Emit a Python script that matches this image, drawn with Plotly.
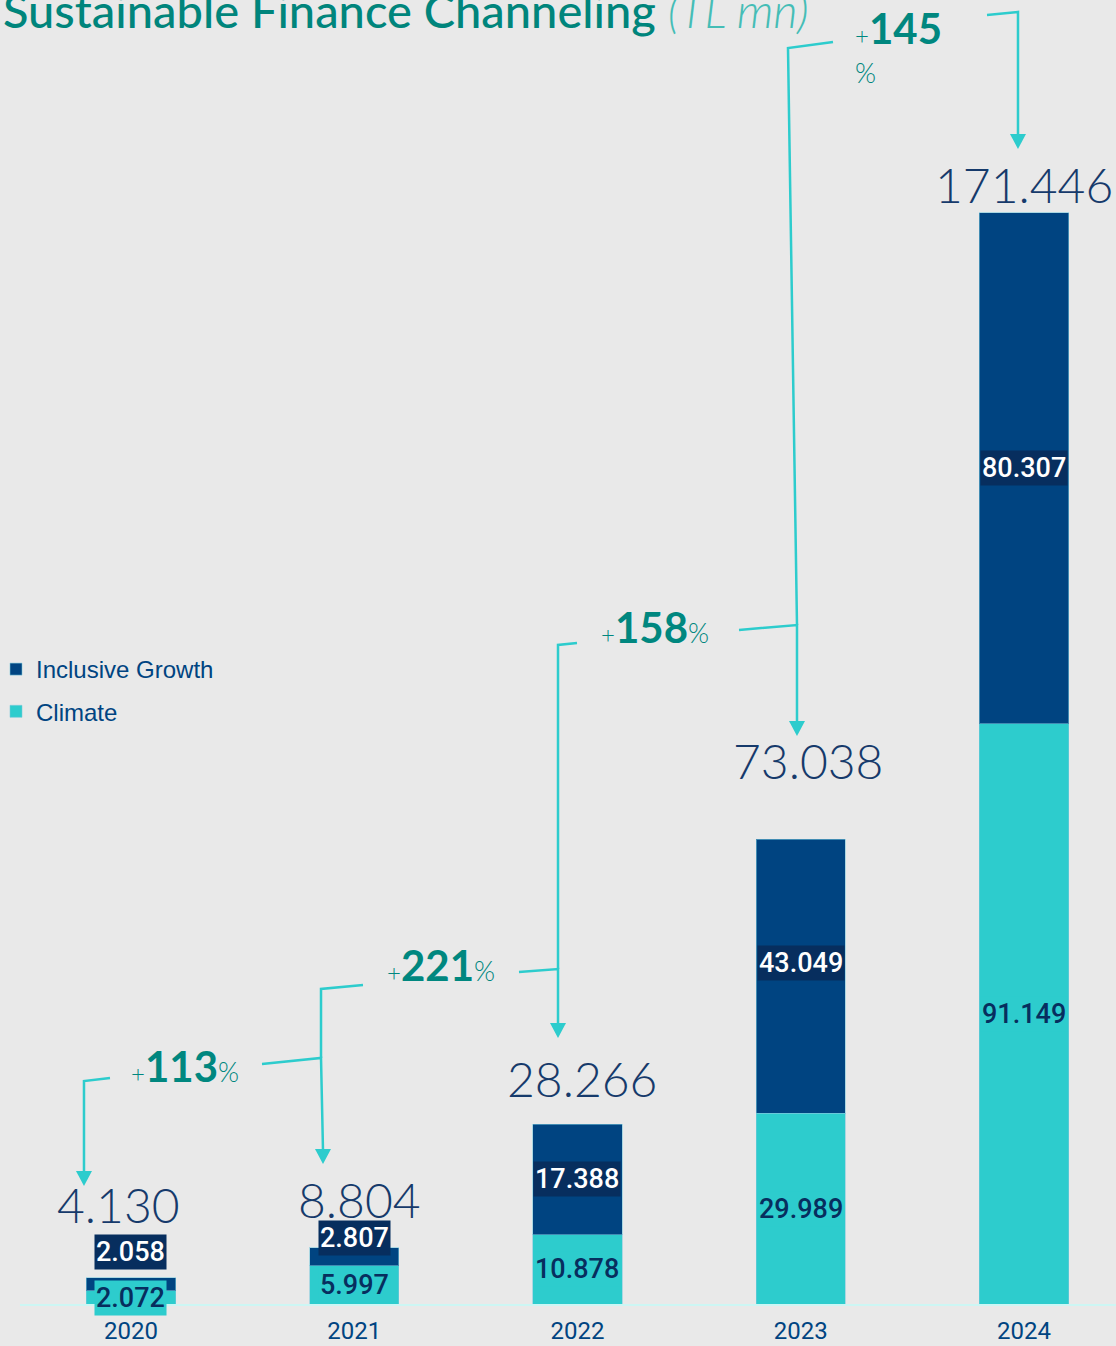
import plotly.graph_objects as go

# ---------------- data ----------------
years = ["2020", "2021", "2022", "2023", "2024"]
climate = [2072, 5997, 10878, 29989, 91149]
inclusive = [2058, 2807, 17388, 43049, 80307]
totals = [4130, 8804, 28266, 73038, 171446]
total_labels = ["4.130", "8.804", "28.266", "73.038", "171.446"]
climate_labels = ["2.072", "5.997", "10.878", "29.989", "91.149"]
inclusive_labels = ["2.058", "2.807", "17.388", "43.049", "80.307"]
growth_numbers = ["113", "221", "158", "145"]

# ---------------- style ----------------
BG = "#E9E9E9"
NAVY = "#004481"
NAVY_DARK = "#072E5E"
CYAN = "#2DCCCD"
TEAL = "#00877F"
TOTAL_COLOR = "#163A6B"

W, H = 1116, 1346
ML, MR, MT, MB = 20, 0, 0, 42
PW, PH = W - ML - MR, H - MT - MB


def px(x):
    return (x - ML) / PW


def py(y):
    return (MT + PH - y) / PH


EDGE = dict(color="rgba(120,200,220,0.55)", width=1)
fig = go.Figure()
fig.add_trace(go.Bar(x=list(range(len(years))), y=climate, name="Climate",
                     marker=dict(color=CYAN, line=EDGE), width=0.4,
                     legendgroup="c", legendrank=2, hoverinfo="skip"))
fig.add_trace(go.Bar(x=list(range(len(years))), y=inclusive, name="Inclusive Growth",
                     marker=dict(color=NAVY, line=EDGE), width=0.4,
                     legendgroup="i", legendrank=1, hoverinfo="skip"))

annotations = []

# totals above bars
total_yshift = [73, 48, 46, 79, 28]
total_xshift = [-12, 5, 5, 7, 0]
for i, t in enumerate(totals):
    annotations.append(dict(x=i, y=t, xref="x", yref="y", text=total_labels[i],
                            showarrow=False, xshift=total_xshift[i], yshift=total_yshift[i],
                            xanchor="center", yanchor="middle",
                            font=dict(family="Lato", size=48, color=TOTAL_COLOR, weight=300)))

# segment labels
inc_yshift = [32, 19, 0, 13, 0]
clim_yshift = [-1, 0, 0, 0, 0]
for i in range(len(years)):
    mid_c = climate[i] / 2
    mid_i = climate[i] + inclusive[i] / 2
    annotations.append(dict(x=i, y=mid_c, xref="x", yref="y", text=climate_labels[i],
                            showarrow=False, yshift=clim_yshift[i], bgcolor=CYAN, borderpad=1,
                            xanchor="center", yanchor="middle",
                            font=dict(family="Roboto", size=27, color=NAVY_DARK, weight=500)))
    annotations.append(dict(x=i, y=mid_i, xref="x", yref="y", text=inclusive_labels[i],
                            showarrow=False, yshift=inc_yshift[i], bgcolor=NAVY_DARK, borderpad=1,
                            xanchor="center", yanchor="middle",
                            font=dict(family="Roboto", size=27, color="white", weight=500)))

# growth labels
growth_pos = [(185, 1066), (441, 965), (655, 627)]
for (gx, gy), g in zip(growth_pos, growth_numbers[:3]):
    annotations.append(dict(
        x=px(gx), y=py(gy), xref="paper", yref="paper", showarrow=False,
        xanchor="center", yanchor="middle",
        text=('<span style="font-size:24px;font-weight:300">+</span>'
              f'<b>{g}</b>'
              '<span style="font-size:27px;font-weight:300">%</span>'),
        font=dict(family="Lato", size=42, color=TEAL)))
annotations.append(dict(
    x=px(853), y=py(28), xref="paper", yref="paper", showarrow=False,
    xanchor="left", yanchor="middle",
    text=('<span style="font-size:24px;font-weight:300">+</span>'
          f'<b>{growth_numbers[3]}</b>'),
    font=dict(family="Lato", size=42, color=TEAL)))
annotations.append(dict(
    x=px(853), y=py(72), xref="paper", yref="paper", showarrow=False,
    xanchor="left", yanchor="middle", text="%",
    font=dict(family="Lato", size=27, color=TEAL, weight=300)))

# title
annotations.append(dict(
    x=px(1), y=py(10), xref="paper", yref="paper", showarrow=False,
    xanchor="left", yanchor="middle",
    text=('Sustainable Finance Channeling '
          '<span style="font-style:italic;font-weight:300;color:#45BDB6">(TL mn)</span>'),
    font=dict(family="Lato", size=47, color="#00857C", weight=500)))

# bracket lines (pixel geometry of the decorative connectors)
LINE = dict(color=CYAN, width=2.5)
segments = [
    [(84, 1172), (84, 1081), (110, 1078)],
    [(262, 1064), (321, 1058), (323, 1150)],
    [(321, 1058), (321, 989), (363, 985)],
    [(519, 972), (558, 969), (558, 1024)],
    [(558, 969), (558, 645), (577, 643)],
    [(739, 630), (797, 625), (797, 722)],
    [(833, 42), (788, 48), (797, 625)],
    [(987, 15), (1018, 12), (1018, 135)],
]
shapes = []
for seg in segments:
    path = "M " + " L ".join(f"{px(x):.5f},{py(y):.5f}" for x, y in seg)
    shapes.append(dict(type="path", xref="paper", yref="paper", path=path,
                       line=LINE, fillcolor="rgba(0,0,0,0)", layer="above"))
tips = [(84, 1186), (323, 1164), (558, 1038), (797, 736), (1018, 149)]
for tx, ty in tips:
    path = (f"M {px(tx - 8):.5f},{py(ty - 15):.5f} L {px(tx + 8):.5f},{py(ty - 15):.5f} "
            f"L {px(tx):.5f},{py(ty):.5f} Z")
    shapes.append(dict(type="path", xref="paper", yref="paper", path=path,
                       line=dict(color=CYAN, width=0), fillcolor=CYAN, layer="above"))

fig.update_layout(
    width=W, height=H,
    margin=dict(l=ML, r=MR, t=MT, b=MB, autoexpand=False),
    paper_bgcolor=BG, plot_bgcolor=BG,
    barmode="stack",
    showlegend=True,
    legend=dict(x=px(-4), y=py(647), xanchor="left", yanchor="top",
                traceorder="grouped", tracegroupgap=8, bgcolor="rgba(0,0,0,0)",
                font=dict(family="Liberation Sans, Arial", size=24, color=NAVY),
                itemwidth=30),
    xaxis=dict(range=[-0.497, 4.412], tickmode="array", tickvals=list(range(len(years))),
               ticktext=years, showgrid=False, zeroline=False, showline=True,
               linecolor="#CCF6F4", linewidth=2, ticks="", ticklabelstandoff=4,
               tickfont=dict(family="Roboto", size=24, color=NAVY)),
    yaxis=dict(range=[0, 204900], visible=False, showgrid=False, zeroline=False),
    annotations=annotations,
    shapes=shapes,
)

fig.write_html("out.html", config={"displayModeBar": False},
               post_script="document.body.style.margin='0';")
